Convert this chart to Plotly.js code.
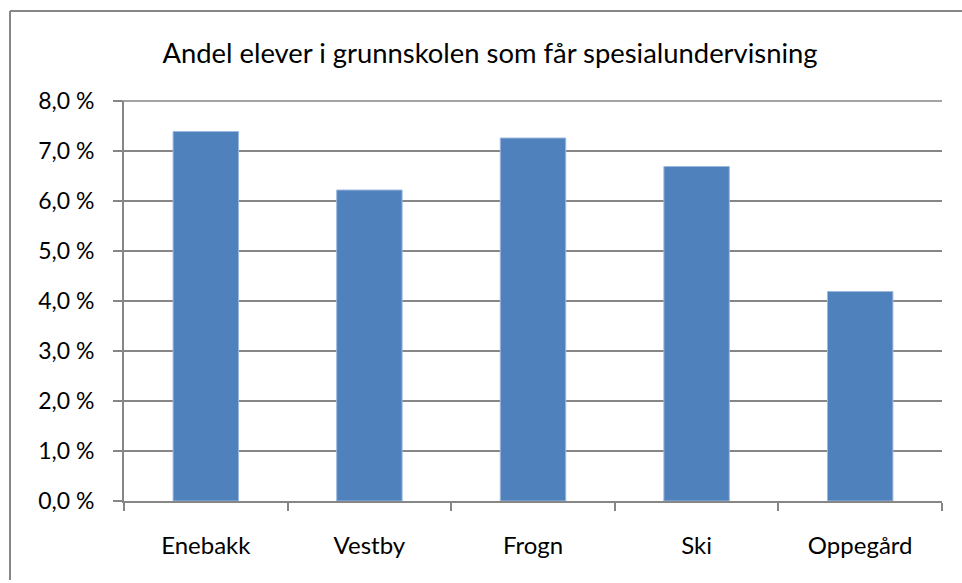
<!DOCTYPE html>
<html>
<head>
<meta charset="utf-8">
<script src="https://cdn.plot.ly/plotly-3.0.1.min.js"></script>
<style>html,body{margin:0;padding:0;background:#fff;}#chart{width:962px;height:583px;}</style>
</head>
<body>
<div id="chart"></div>
<script>
const categories = ["Enebakk", "Vestby", "Frogn", "Ski", "Oppegård"];
const values = [7.39, 6.22, 7.26, 6.69, 4.19];
const yTicks = [0, 1, 2, 3, 4, 5, 6, 7, 8];
const yTickLabels = ["0,0 %", "1,0 %", "2,0 %", "3,0 %", "4,0 %", "5,0 %", "6,0 %", "7,0 %", "8,0 %"];
const chartTitle = "Andel elever i grunnskolen som får spesialundervisning";

const W = 962, H = 583;
const m = {l: 124, r: 20, t: 101, b: 82};
const pw = W - m.l - m.r, ph = H - m.t - m.b;
const px = v => (v - m.l) / pw;
const py = v => 1 - (v - m.t) / ph;

const font = "Lato, 'Open Sans', sans-serif";

const trace = {
  type: "bar",
  x: categories,
  y: values,
  marker: {color: "#4F81BD", line: {color: "#9DB9DE", width: 1}},
  hoverinfo: "none"
};

const layout = {
  width: W, height: H,
  margin: m,
  paper_bgcolor: "#fff",
  plot_bgcolor: "#fff",
  showlegend: false,
  bargap: 0.6,
  font: {family: font, size: 23, color: "#000"},
  title: {text: chartTitle, font: {family: font, size: 27.4, color: "#000"}, x: 490 / W, xref: "container", xanchor: "center", y: 1 - 53 / H, yref: "container", yanchor: "middle"},
  xaxis: {
    type: "category",
    showgrid: false,
    showline: true, linecolor: "#868686", linewidth: 2,
    ticks: "outside", tickson: "boundaries", ticklen: 8, tickcolor: "#868686", tickwidth: 2,
    ticklabelstandoff: 22,
    tickfont: {family: font, size: 24, color: "#000"},
    zeroline: false, fixedrange: true
  },
  yaxis: {
    range: [0, 8],
    tickmode: "array",
    tickvals: yTicks,
    ticktext: yTickLabels,
    showgrid: true, gridcolor: "#868686", gridwidth: 1.5,
    showline: true, linecolor: "#868686", linewidth: 2,
    ticks: "outside", ticklen: 9, tickcolor: "#868686", tickwidth: 1.5,
    ticklabelstandoff: 14,
    tickfont: {family: font, size: 23, color: "#000"},
    zeroline: false, fixedrange: true
  },
  shapes: [
    {type: "line", xref: "paper", yref: "paper", x0: px(10), x1: px(W + 5), y0: py(11), y1: py(11), line: {color: "#868686", width: 2}},
    {type: "line", xref: "paper", yref: "paper", x0: px(10), x1: px(10), y0: py(11), y1: py(580), line: {color: "#868686", width: 2}},
    {type: "line", xref: "paper", yref: "paper", x0: px(115), x1: px(942), y0: 1, y1: 1, line: {color: "#868686", width: 1.5}}
  ]
};

Plotly.newPlot("chart", [trace], layout, {displayModeBar: false, staticPlot: true});
</script>
</body>
</html>
